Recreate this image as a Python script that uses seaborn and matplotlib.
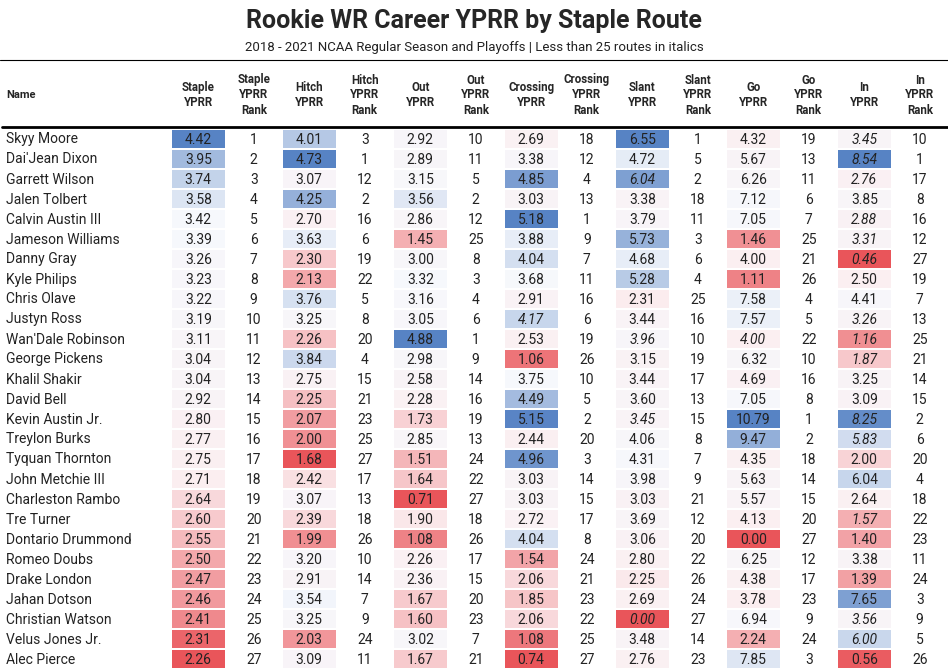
import numpy as np
import pandas as pd
import matplotlib
matplotlib.use("Agg")
import matplotlib.pyplot as plt
import seaborn as sns
from matplotlib.colors import LinearSegmentedColormap

sns.set_style("white")
plt.rcParams['font.family'] = ['Roboto', 'DejaVu Sans']

# === data ===
names = ["Skyy Moore", "Dai'Jean Dixon", "Garrett Wilson", "Jalen Tolbert", "Calvin Austin III",
         "Jameson Williams", "Danny Gray", "Kyle Philips", "Chris Olave", "Justyn Ross",
         "Wan'Dale Robinson", "George Pickens", "Khalil Shakir", "David Bell", "Kevin Austin Jr.",
         "Treylon Burks", "Tyquan Thornton", "John Metchie III", "Charleston Rambo", "Tre Turner",
         "Dontario Drummond", "Romeo Doubs", "Drake London", "Jahan Dotson", "Christian Watson",
         "Velus Jones Jr.", "Alec Pierce"]

vals = {
    "Staple": [4.42, 3.95, 3.74, 3.58, 3.42, 3.39, 3.26, 3.23, 3.22, 3.19, 3.11, 3.04, 3.04, 2.92,
               2.80, 2.77, 2.75, 2.71, 2.64, 2.60, 2.55, 2.50, 2.47, 2.46, 2.41, 2.31, 2.26],
    "Hitch": [4.01, 4.73, 3.07, 4.25, 2.70, 3.63, 2.30, 2.13, 3.76, 3.25, 2.26, 3.84, 2.75, 2.25,
              2.07, 2.00, 1.68, 2.42, 3.07, 2.39, 1.99, 3.20, 2.91, 3.54, 3.25, 2.03, 3.09],
    "Out": [2.92, 2.89, 3.15, 3.56, 2.86, 1.45, 3.00, 3.32, 3.16, 3.05, 4.88, 2.98, 2.58, 2.28,
            1.73, 2.85, 1.51, 1.64, 0.71, 1.90, 1.08, 2.26, 2.36, 1.67, 1.60, 3.02, 1.67],
    "Crossing": [2.69, 3.38, 4.85, 3.03, 5.18, 3.88, 4.04, 3.68, 2.91, 4.17, 2.53, 1.06, 3.75, 4.49,
                 5.15, 2.44, 4.96, 3.03, 3.03, 2.72, 4.04, 1.54, 2.06, 1.85, 2.06, 1.08, 0.74],
    "Slant": [6.55, 4.72, 6.04, 3.38, 3.79, 5.73, 4.68, 5.28, 2.31, 3.44, 3.96, 3.15, 3.44, 3.60,
              3.45, 4.06, 4.31, 3.98, 3.03, 3.69, 3.06, 2.80, 2.25, 2.69, 0.00, 3.48, 2.76],
    "Go": [4.32, 5.67, 6.26, 7.12, 7.05, 1.46, 4.00, 1.11, 7.58, 7.57, 4.00, 6.32, 4.69, 7.05,
           10.79, 9.47, 4.35, 5.63, 5.57, 4.13, 0.00, 6.25, 4.38, 3.78, 6.94, 2.24, 7.85],
    "In": [3.45, 8.54, 2.76, 3.85, 2.88, 3.31, 0.46, 2.50, 4.41, 3.26, 1.16, 1.87, 3.25, 3.09,
           8.25, 5.83, 2.00, 6.04, 2.64, 1.57, 1.40, 3.38, 1.39, 7.65, 3.56, 6.00, 0.56],
}
ranks = {
    "Staple": list(range(1, 28)),
    "Hitch": [3, 1, 12, 2, 16, 6, 19, 22, 5, 8, 20, 4, 15, 21, 23, 25, 27, 17, 13, 18, 26, 10, 14, 7, 9, 24, 11],
    "Out": [10, 11, 5, 2, 12, 25, 8, 3, 4, 6, 1, 9, 14, 16, 19, 13, 24, 22, 27, 18, 26, 17, 15, 20, 23, 7, 21],
    "Crossing": [18, 12, 4, 13, 1, 9, 7, 11, 16, 6, 19, 26, 10, 5, 2, 20, 3, 14, 15, 17, 8, 24, 21, 23, 22, 25, 27],
    "Slant": [1, 5, 2, 18, 11, 3, 6, 4, 25, 16, 10, 19, 17, 13, 15, 8, 7, 9, 21, 12, 20, 22, 26, 24, 27, 14, 23],
    "Go": [19, 13, 11, 6, 7, 25, 21, 26, 4, 5, 22, 10, 16, 8, 1, 2, 18, 14, 15, 20, 27, 12, 17, 23, 9, 24, 3],
    "In": [10, 1, 17, 8, 16, 12, 27, 19, 7, 13, 25, 21, 14, 15, 2, 6, 20, 4, 18, 22, 23, 11, 24, 3, 9, 5, 26],
}
# less than 25 routes -> italics
italics = {
    "Crossing": ["Justyn Ross"],
    "Slant": ["Garrett Wilson", "Wan'Dale Robinson", "Kevin Austin Jr.", "Christian Watson"],
    "Go": ["Wan'Dale Robinson"],
    "In": ["Skyy Moore", "Dai'Jean Dixon", "Garrett Wilson", "Calvin Austin III", "Jameson Williams",
           "Danny Gray", "Justyn Ross", "Wan'Dale Robinson", "George Pickens", "Kevin Austin Jr.",
           "Treylon Burks", "Tre Turner", "Christian Watson", "Velus Jones Jr."],
}
routes = list(vals.keys())

# === colour scale: per column, centred on the median ===
color_cols = {}
table_cols = []
for r in routes:
    v = np.array(vals[r])
    med = np.median(v)
    norm = np.where(v >= med, (v - med) / (v.max() - med), (v - med) / (med - v.min()))
    color_cols[r + " YPRR"] = norm
    color_cols[r + " Rank"] = np.full(len(v), np.nan)
    table_cols += [r + " YPRR", r + " Rank"]
df_color = pd.DataFrame(color_cols, index=names)[table_cols]

cmap = LinearSegmentedColormap.from_list("rwb", ["#e9555a", "#fbeef0", "#f6f8fc", "#5783c4"])

W, H = 948, 671
fig = plt.figure(figsize=(W / 100, H / 100), dpi=100)
ax = fig.add_axes([170.5 / W, 2 / H, 777 / W, 540 / H])
ax.set_facecolor("white")
sns.heatmap(df_color, ax=ax, cmap=cmap, vmin=-1, vmax=1, cbar=False,
            linewidths=1.1, linecolor="white", xticklabels=False, yticklabels=False)

for j, col in enumerate(table_cols):
    r, kind = col.split(" ")
    for i, n in enumerate(names):
        if kind == "YPRR":
            txt = f"{vals[r][i]:.2f}"
            style = "italic" if n in italics.get(r, []) else "normal"
        else:
            txt = str(ranks[r][i])
            style = "normal"
        ax.text(j + 0.5, i + 0.55, txt, ha="center", va="center", fontsize=10,
                style=style, color="#222222")

# names
for i, n in enumerate(names):
    fig.text(6 / W, 1 - (129 + 20 * i + 10.5) / H, n, ha="left", va="center", fontsize=10, color="#222222")

# headers
fig.text(6 / W, 1 - 95 / H, "Name", ha="left", va="center", fontsize=8, fontweight="bold")
for j, col in enumerate(table_cols):
    r, kind = col.split(" ")
    lab = f"{r}\nYPRR" if kind == "YPRR" else f"{r}\nYPRR\nRank"
    xc = (170.5 + 55.5 * (j + 0.5)) / W
    fig.text(xc, 1 - 95 / H, lab, ha="center", va="center", fontsize=8.3, fontweight="bold",
             linespacing=1.2)

fig.text(0.5, 1 - 21 / H, "Rookie WR Career YPRR by Staple Route", ha="center", va="center",
         fontsize=18, fontweight="bold")
fig.text(0.5, 1 - 48 / H, "2018 - 2021 NCAA Regular Season and Playoffs | Less than 25 routes in italics",
         ha="center", va="center", fontsize=9.5, color="#222222")

fig.add_artist(plt.Line2D([0, 1], [1 - 60 / H, 1 - 60 / H], color="black", lw=0.8))
fig.add_artist(plt.Line2D([2 / W, 1], [1 - 127 / H, 1 - 127 / H], color="black", lw=2))

fig.savefig("out.png", dpi=100, facecolor="white")
